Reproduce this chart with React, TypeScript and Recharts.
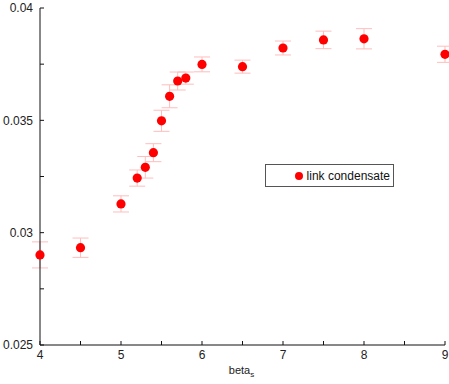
import React from 'react';
import { ScatterChart, Scatter, XAxis, YAxis, ErrorBar, Legend } from 'recharts';

const betaValues = [4, 4.5, 5, 5.2, 5.3, 5.4, 5.5, 5.6, 5.7, 5.8, 6, 6.5, 7, 7.5, 8, 9];
const condensateValues = [0.02901, 0.02933, 0.03128, 0.03243, 0.03291, 0.03356, 0.03498, 0.03607, 0.03675, 0.03688, 0.03749, 0.03739, 0.03822, 0.03858, 0.03863, 0.03794];
const condensateErrors = [0.00058, 0.00043, 0.00036, 0.00036, 0.00048, 0.0004, 0.00047, 0.00051, 0.0004, 0.00027, 0.00033, 0.00029, 0.00031, 0.00039, 0.00045, 0.00036];

const xTicks = [4, 4.5, 5, 5.5, 6, 6.5, 7, 7.5, 8, 8.5, 9];
const yTicks = [0.025, 0.0275, 0.03, 0.0325, 0.035, 0.0375, 0.04];
const seriesName = 'link condensate';

const data = betaValues.map((b, i) => ({ beta: b, value: condensateValues[i], err: condensateErrors[i] }));

const FONT = '"Liberation Sans", Arial, Helvetica, sans-serif';

const xFmt = (v: number) => (Number.isInteger(v) ? String(v) : '');
const yFmt = (v: number) => {
  const r = Math.round(v * 10000);
  return r % 50 === 0 ? String(Number(v.toFixed(4))) : '';
};

const Dot = (p: any) => <circle cx={p.cx} cy={p.cy} r={4.6} fill="#ff0000" />;

const XLabel = (props: any) => {
  const vb = props.viewBox || {};
  const cx = vb.x + vb.width / 2 - 1;
  const y = vb.y + 29;
  return (
    <text x={cx} y={y} textAnchor="middle" fontFamily={FONT} fontSize={11} fill="#222">
      beta<tspan dy={3} fontSize={8}>s</tspan>
    </text>
  );
};

const LegendBox = () => (
  <div
    style={{
      boxSizing: 'border-box',
      width: 129,
      height: 23,
      border: '1px solid #555',
      background: '#fff',
      display: 'flex',
      alignItems: 'center',
      justifyContent: 'flex-end',
      paddingRight: 3,
      fontFamily: FONT,
      fontSize: 12,
      color: '#111',
    }}
  >
    <span style={{ display: 'inline-block', width: 8, height: 8, borderRadius: 4, background: '#ff0000', marginRight: 4 }} />
    <span>{seriesName}</span>
  </div>
);

export default function App() {
  return (
    <div style={{ position: 'absolute', left: 0, top: 0, background: '#fff' }}>
      <ScatterChart width={449} height={384} margin={{ top: 8, right: 4, bottom: 9, left: 0 }}>
        <XAxis
          dataKey="beta"
          type="number"
          domain={[4, 9]}
          ticks={xTicks}
          interval={0}
          tickFormatter={xFmt}
          tickSize={-4}
          tickMargin={9.5}
          height={30}
          stroke="#111"
          tick={{ fill: '#222', fontSize: 12, fontFamily: FONT }}
          label={XLabel}
        />
        <XAxis
          xAxisId="top"
          orientation="top"
          type="number"
          domain={[4, 9]}
          ticks={xTicks}
          interval={0}
          tickFormatter={() => ''}
          tickSize={-4}
          height={0}
          stroke="#333"
        />
        <YAxis
          dataKey="value"
          type="number"
          domain={[0.025, 0.04]}
          ticks={yTicks}
          interval={0}
          tickFormatter={yFmt}
          tickSize={-4}
          tickMargin={11}
          width={40}
          stroke="#111"
          tick={{ fill: '#222', fontSize: 12, fontFamily: FONT }}
        />
        <YAxis
          yAxisId="right"
          orientation="right"
          type="number"
          domain={[0.025, 0.04]}
          ticks={yTicks}
          interval={0}
          tickFormatter={() => ''}
          tickSize={-4}
          width={0}
          stroke="#333"
        />
        <Legend
          layout="vertical"
          align="center"
          verticalAlign="middle"
          content={LegendBox}
          wrapperStyle={{ position: 'absolute', left: 265, top: 164, width: 129, height: 23 }}
        />
        <Scatter name={seriesName} data={data} shape={Dot} isAnimationActive={false}>
          <ErrorBar dataKey="err" direction="y" width={8} stroke="#ffbdbd" strokeWidth={1} />
        </Scatter>
      </ScatterChart>
    </div>
  );
}
